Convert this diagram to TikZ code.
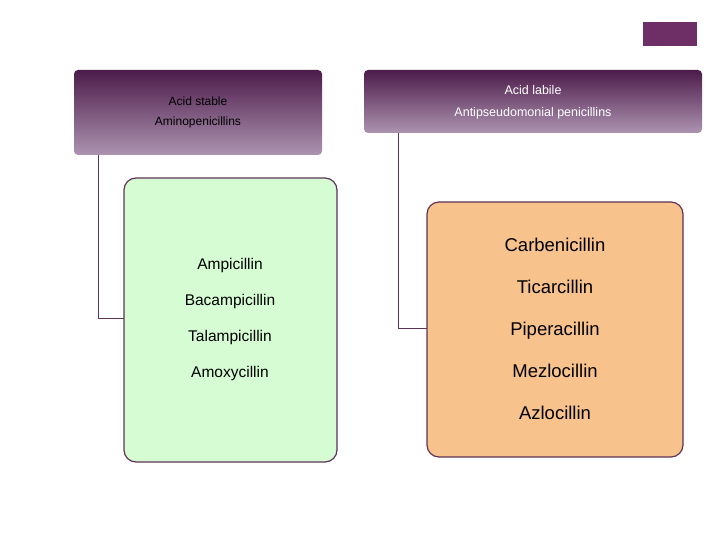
\documentclass[tikz,border=0pt]{standalone}
\usepackage{fontspec}
\setmainfont{Liberation Sans}
\begin{document}
\begin{tikzpicture}[x=1pt,y=-1pt,
  hdr/.style={rounded corners=4pt,top color=hdtop,bottom color=hdbot,draw=none},
  box/.style={rounded corners=12pt,draw=edge,line width=1.2pt},
  conn/.style={draw=edge,line width=1pt}]
\definecolor{hdtop}{HTML}{4C1C4A}
\definecolor{hdbot}{HTML}{AD93B1}
\definecolor{edge}{HTML}{5E3456}
\definecolor{tag}{HTML}{6E2E66}
\definecolor{gbox}{HTML}{D6FCD4}
\definecolor{obox}{HTML}{F8C28C}
\useasboundingbox (0,0) rectangle (720,540);
\fill[tag] (643,22) rectangle (697,46);
\path[hdr] (74,70) rectangle (322,155);
\path[hdr] (364,70) rectangle (702,133);
\coordinate (h1) at (98,155);
\coordinate (h2) at (398,133);
\node[font=\fontsize{12}{14}\selectfont,align=center] (t1) at (198,112) {Acid stable\\[6pt]Aminopenicillins};
\node[font=\fontsize{12.5}{14}\selectfont,align=center,text=white] (t2) at (533,102) {Acid labile\\[8pt]Antipseudomonial penicillins};
\path[box,fill=gbox] (124,178) rectangle (337,462);
\path[box,fill=obox] (427,202) rectangle (683,457);
\coordinate (g) at (124,318);
\coordinate (o) at (427,328);
\draw[conn] (h1) |- (g);
\draw[conn] (h2) |- (o);
\node[font=\fontsize{15.5}{18}\selectfont,align=center] (gl) at (230,319) {Ampicillin\\[18pt]Bacampicillin\\[18pt]Talampicillin\\[18pt]Amoxycillin};
\node[font=\fontsize{18.5}{21}\selectfont,align=center] (ol) at (555,329) {Carbenicillin\\[21pt]Ticarcillin\\[21pt]Piperacillin\\[21pt]Mezlocillin\\[21pt]Azlocillin};
\end{tikzpicture}
\end{document}
